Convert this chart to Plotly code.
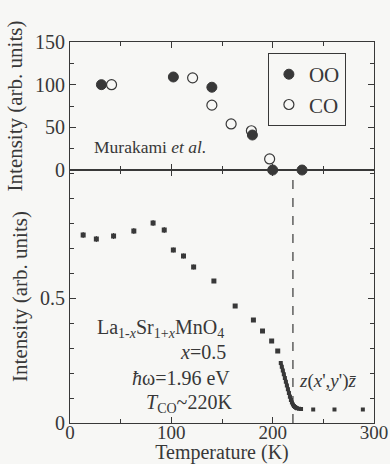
import plotly.graph_objects as go

# ---- data ----
oo_T = [31, 102, 140, 180, 200, 229]
oo_I = [100, 109, 97, 41, 0, 0]
co_T = [41, 121, 140, 159, 179, 197]
co_I = [100, 108, 76, 54, 46, 13]

raman_T = [13, 26, 43, 63, 82, 93, 102, 112, 122, 142, 163, 181, 190, 199, 205]
raman_I = [0.752, 0.736, 0.748, 0.768, 0.800, 0.772, 0.692, 0.668, 0.624, 0.568, 0.468, 0.412, 0.368, 0.328, 0.288]
raman_err = [0.012, 0.012, 0.012, 0.012, 0.012, 0.012, 0.01, 0.01, 0.01, 0.008, 0.006, 0.005, 0.005, 0.005, 0.005]

dense_T = [208, 209, 210, 211, 212, 213, 214, 215, 216, 217, 218, 219, 220, 221, 222, 223, 224, 226, 228]
dense_I = [0.24, 0.225, 0.21, 0.195, 0.18, 0.165, 0.15, 0.135, 0.12, 0.105, 0.092, 0.082, 0.074, 0.068, 0.064, 0.061, 0.059, 0.057, 0.056]

tail_T = [240, 261, 289]
tail_I = [0.054, 0.054, 0.054]

T_co = 220

x_ticks = [0, 100, 200, 300]
top_yticks = [0, 50, 100, 150]
bot_yticks = [0, 0.5]

INK = "#383838"
SERIF = "'Liberation Serif', 'Times New Roman', serif"
FS = 20

fig = go.Figure()

# top panel
fig.add_trace(go.Scatter(x=oo_T, y=oo_I, mode="markers", name="OO",
                         marker=dict(symbol="circle", size=10, color=INK, line=dict(color=INK, width=1)),
                         xaxis="x2", yaxis="y2", cliponaxis=False))
fig.add_trace(go.Scatter(x=co_T, y=co_I, mode="markers", name="CO",
                         marker=dict(symbol="circle-open", size=10, color=INK, line=dict(color=INK, width=1.2)),
                         xaxis="x2", yaxis="y2", cliponaxis=False))

# bottom panel
fig.add_trace(go.Scatter(x=raman_T, y=raman_I, mode="markers", showlegend=False,
                         marker=dict(symbol="square", size=5, color=INK),
                         error_y=dict(type="data", array=raman_err, color=INK, thickness=1, width=0),
                         xaxis="x", yaxis="y"))
fig.add_trace(go.Scatter(x=dense_T, y=dense_I, mode="markers+lines", showlegend=False,
                         marker=dict(symbol="square", size=4, color=INK),
                         line=dict(color=INK, width=3),
                         xaxis="x", yaxis="y"))
fig.add_trace(go.Scatter(x=tail_T, y=tail_I, mode="markers", showlegend=False,
                         marker=dict(symbol="square", size=4, color=INK),
                         xaxis="x", yaxis="y"))

axis_common = dict(showline=True, linecolor=INK, linewidth=1.2, mirror="ticks",
                   ticks="inside", ticklen=6, tickcolor=INK, tickwidth=1,
                   showgrid=False, zeroline=False, automargin=False)

tickfont = dict(family=SERIF, size=FS, color=INK)

fig.update_layout(
    width=390, height=464,
    margin=dict(l=70, r=16, t=42, b=41),
    paper_bgcolor="#f7f7f5", plot_bgcolor="#f7f7f5",
    font=dict(family=SERIF, color=INK, size=FS),
    xaxis=dict(range=[0, 300], tickvals=x_ticks, anchor="y",
               minor=dict(dtick=50, ticks="inside", ticklen=4, tickcolor=INK),
               title=dict(text="Temperature (K)", font=dict(family=SERIF, size=20, color=INK), standoff=0),
               ticklabelstandoff=-8, tickfont=dict(family=SERIF, size=19, color=INK),
               **axis_common),
    yaxis=dict(range=[0, 1.012], domain=[0, 0.664], tickvals=bot_yticks, ticktext=["0", "0.5"],
               minor=dict(dtick=0.1, ticks="inside", ticklen=4, tickcolor=INK),
               title=dict(text="Intensity (arb. units)", font=dict(family=SERIF, size=21, color=INK), standoff=6),
               tickfont=tickfont,
               **axis_common),
    xaxis2=dict(range=[0, 300], tickvals=x_ticks, anchor="y2", matches="x", showticklabels=False,
                minor=dict(dtick=50, ticks="inside", ticklen=4, tickcolor=INK),
                **axis_common),
    yaxis2=dict(range=[0, 150], domain=[0.664, 1], tickvals=top_yticks,
                minor=dict(dtick=25, ticks="inside", ticklen=4, tickcolor=INK),
                title=dict(text="Intensity (arb. units)", font=dict(family=SERIF, size=21, color=INK), standoff=6),
                tickfont=tickfont,
                **axis_common),
    legend=dict(x=0.651, y=0.971, xanchor="left", yanchor="top",
                bgcolor="rgba(0,0,0,0)", bordercolor=INK, borderwidth=1,
                font=dict(family=SERIF, size=21, color=INK),
                itemwidth=30, tracegroupgap=0),
    showlegend=True,
)

fig.add_shape(type="line", xref="x", yref="y domain", x0=T_co, x1=T_co, y0=0, y1=1,
              line=dict(color=INK, width=1.2, dash="dash"))

fig.add_annotation(text="Murakami <i>et al.</i>", xref="x2", yref="y2", x=21.5, y=27,
                   xanchor="left", yanchor="middle", showarrow=False,
                   font=dict(family=SERIF, size=17.5, color=INK))
fig.add_annotation(text="La<sub>1-<i>x</i></sub>Sr<sub>1+<i>x</i></sub>MnO<sub>4</sub>", xref="x", yref="y", x=24.5, y=0.38,
                   xanchor="left", yanchor="middle", showarrow=False,
                   font=dict(family=SERIF, size=20, color=INK))
fig.add_annotation(text="<i>x</i>=0.5", xref="x", yref="y", x=156, y=0.284,
                   xanchor="right", yanchor="middle", showarrow=False,
                   font=dict(family=SERIF, size=20, color=INK))
fig.add_annotation(text="<i>ħ</i>ω=1.96 eV", xref="x", yref="y", x=160, y=0.18,
                   xanchor="right", yanchor="middle", showarrow=False,
                   font=dict(family=SERIF, size=20, color=INK))
fig.add_annotation(text="<i>T</i><sub>CO</sub>~220K", xref="x", yref="y", x=162, y=0.08,
                   xanchor="right", yanchor="middle", showarrow=False,
                   font=dict(family=SERIF, size=20, color=INK))
fig.add_annotation(text="<i>z</i>(<i>x</i>',<i>y</i>')<i>z̄</i>", xref="x", yref="y", x=224, y=0.168,
                   xanchor="left", yanchor="middle", showarrow=False,
                   font=dict(family=SERIF, size=19, color=INK))

fig.write_html("out.html")
